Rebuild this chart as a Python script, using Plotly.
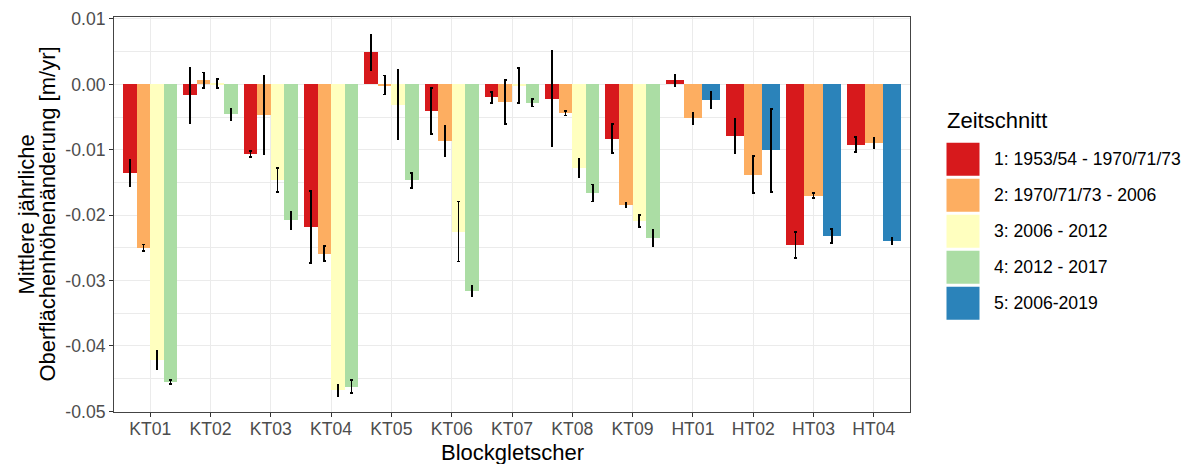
import plotly.graph_objects as go

# glaciers (x categories)
categories = ['KT01', 'KT02', 'KT03', 'KT04', 'KT05', 'KT06', 'KT07', 'KT08', 'KT09',
              'HT01', 'HT02', 'HT03', 'HT04']

# time slices (legend)
series_names = ['1: 1953/54 - 1970/71/73', '2: 1970/71/73 - 2006', '3: 2006 - 2012',
                '4: 2012 - 2017', '5: 2006-2019']
series_colors = ['#D7191C', '#FDAE61', '#FFFFBF', '#ABDDA4', '#2B83BA']

# mean annual surface elevation change [m/yr], None = no value
s1 = [-0.0135, -0.0017, -0.0106, -0.0218, 0.0049, -0.0041, -0.0020, -0.0022, -0.0083,
      0.0006, -0.0079, -0.0246, -0.0092]
s2 = [-0.0250, 0.0006, -0.0047, -0.0259, -0.0001, -0.0086, -0.0027, -0.0044, -0.0185,
      -0.0052, -0.0138, -0.0170, -0.0090]
s3 = [-0.0422, 0.0001, -0.0146, -0.0468, -0.0031, -0.0225, -0.0002, -0.0128, -0.0209,
      None, None, None, None]
s4 = [-0.0455, -0.0046, -0.0208, -0.0462, -0.0147, -0.0316, -0.0028, -0.0166, -0.0235,
      None, None, None, None]
s5 = [None, None, None, None, None, None, None, None, None,
      -0.0024, -0.0101, -0.0232, -0.0240]

# error (+/-)
s1_err = [0.0020, 0.0042, 0.00046, 0.0055, 0.00265, 0.0035, 0.00085, 0.0073, 0.0022,
          0.0008, 0.0026, 0.0020, 0.00115]
s2_err = [0.0005, 0.0012, 0.0060, 0.00115, 0.00145, 0.0023, 0.0034, 0.00036, 0.00033,
          0.00085, 0.0028, 0.00036, 0.0008]
s3_err = [0.0014, 0.0007, 0.0018, 0.0008, 0.0053, 0.0046, 0.0027, 0.0014, 0.0009,
          None, None, None, None]
s4_err = [0.0003, 0.0009, 0.0013, 0.0010, 0.0011, 0.0008, 0.0006, 0.0013, 0.0012,
          None, None, None, None]
s5_err = [None, None, None, None, None, None, None, None, None,
          0.0012, 0.0063, 0.0011, 0.0005]

ytick_vals = [0.01, 0.0, -0.01, -0.02, -0.03, -0.04, -0.05]
ytick_text = ['0.01', '0.00', '-0.01', '-0.02', '-0.03', '-0.04', '-0.05']

values = [s1, s2, s3, s4, s5]
errors = [s1_err, s2_err, s3_err, s4_err, s5_err]

FONT = 'Liberation Sans, Arial, sans-serif'
W, H = 1194, 464
ML, MR, MT, MB = 114, 284, 17, 52


def px_x(px):
    return (px - ML) / (W - ML - MR)


def px_y(py):
    return (H - MB - py) / (H - MT - MB)


# dodge like ggplot: total width 0.9 split over the series present in each category
fig = go.Figure()
for j, (vals, errs) in enumerate(zip(values, errors)):
    xs, ys, es, ws = [], [], [], []
    for i in range(len(categories)):
        if vals[i] is None:
            continue
        present = [k for k in range(len(values)) if values[k][i] is not None]
        n = len(present)
        w = 0.9 / n
        pos = present.index(j)
        xs.append(i + (pos - (n - 1) / 2) * w)
        ys.append(vals[i])
        es.append(errs[i])
        ws.append(w)
    fig.add_trace(go.Bar(x=xs, y=ys, width=ws, name=series_names[j],
                         marker=dict(color=series_colors[j], line=dict(width=0)),
                         error_y=dict(type='data', array=es, visible=True,
                                      color='black', thickness=1.8, width=1.3),
                         showlegend=False))

fig.update_layout(
    width=W, height=H,
    margin=dict(l=ML, r=MR, t=MT, b=MB),
    paper_bgcolor='white', plot_bgcolor='white',
    font=dict(family=FONT, color='black'),
    bargap=0,
    xaxis=dict(range=[-0.6, len(categories) - 0.4],
               tickmode='array', tickvals=list(range(len(categories))), ticktext=categories,
               tickfont=dict(size=17.6, color='#4D4D4D'), ticklabelstandoff=-3,
               ticks='outside', ticklen=4, tickcolor='#333333', tickwidth=1,
               showgrid=True, gridcolor='#EBEBEB', gridwidth=1.1,
               showline=True, mirror=True, linecolor='#444444', linewidth=1,
               zeroline=False, automargin=False),
    yaxis=dict(range=[-0.0501, 0.0103],
               tickmode='array', tickvals=ytick_vals, ticktext=ytick_text,
               tickfont=dict(size=17.6, color='#4D4D4D'),
               ticks='outside', ticklen=4, tickcolor='#333333', tickwidth=1,
               showgrid=True, gridcolor='#EBEBEB', gridwidth=1.1,
               minor=dict(dtick=0.005, tick0=0, showgrid=True, gridcolor='#EBEBEB',
                          gridwidth=0.6, ticks=''),
               showline=True, mirror=True, linecolor='#444444', linewidth=1,
               zeroline=False, automargin=False),
)

# axis titles
ann = [
    dict(text='Blockgletscher', x=0.5, y=px_y(438), xref='paper', yref='paper',
         xanchor='center', yanchor='top', showarrow=False, font=dict(size=22)),
    dict(text='Mittlere jährliche', x=px_x(26), y=0.5, xref='paper', yref='paper',
         xanchor='center', yanchor='middle', textangle=-90, showarrow=False,
         font=dict(size=22)),
    dict(text='Oberflächenhöhenänderung [m/yr]', x=px_x(47), y=0.5, xref='paper',
         yref='paper', xanchor='center', yanchor='middle', textangle=-90,
         showarrow=False, font=dict(size=22)),
    dict(text='Zeitschnitt', x=px_x(945), y=px_y(121), xref='paper', yref='paper',
         xanchor='left', yanchor='middle', showarrow=False, font=dict(size=22)),
]

# legend drawn by hand to get ggplot sized keys
shapes = []
for k, (name, col) in enumerate(zip(series_names, series_colors)):
    top = 142.7 + k * 36
    shapes.append(dict(type='rect', xref='paper', yref='paper',
                       x0=px_x(946.5), x1=px_x(979.5), y0=px_y(top), y1=px_y(top + 33),
                       fillcolor=col, line=dict(width=0)))
    ann.append(dict(text=name, x=px_x(992), y=px_y(top + 16.5), xref='paper', yref='paper',
                    xanchor='left', yanchor='middle', showarrow=False,
                    font=dict(size=17.6)))

fig.update_layout(annotations=ann, shapes=shapes)

fig.write_html('out.html', config={'displayModeBar': False},
               post_script="document.body.style.margin='0';document.body.style.overflow='hidden';")
